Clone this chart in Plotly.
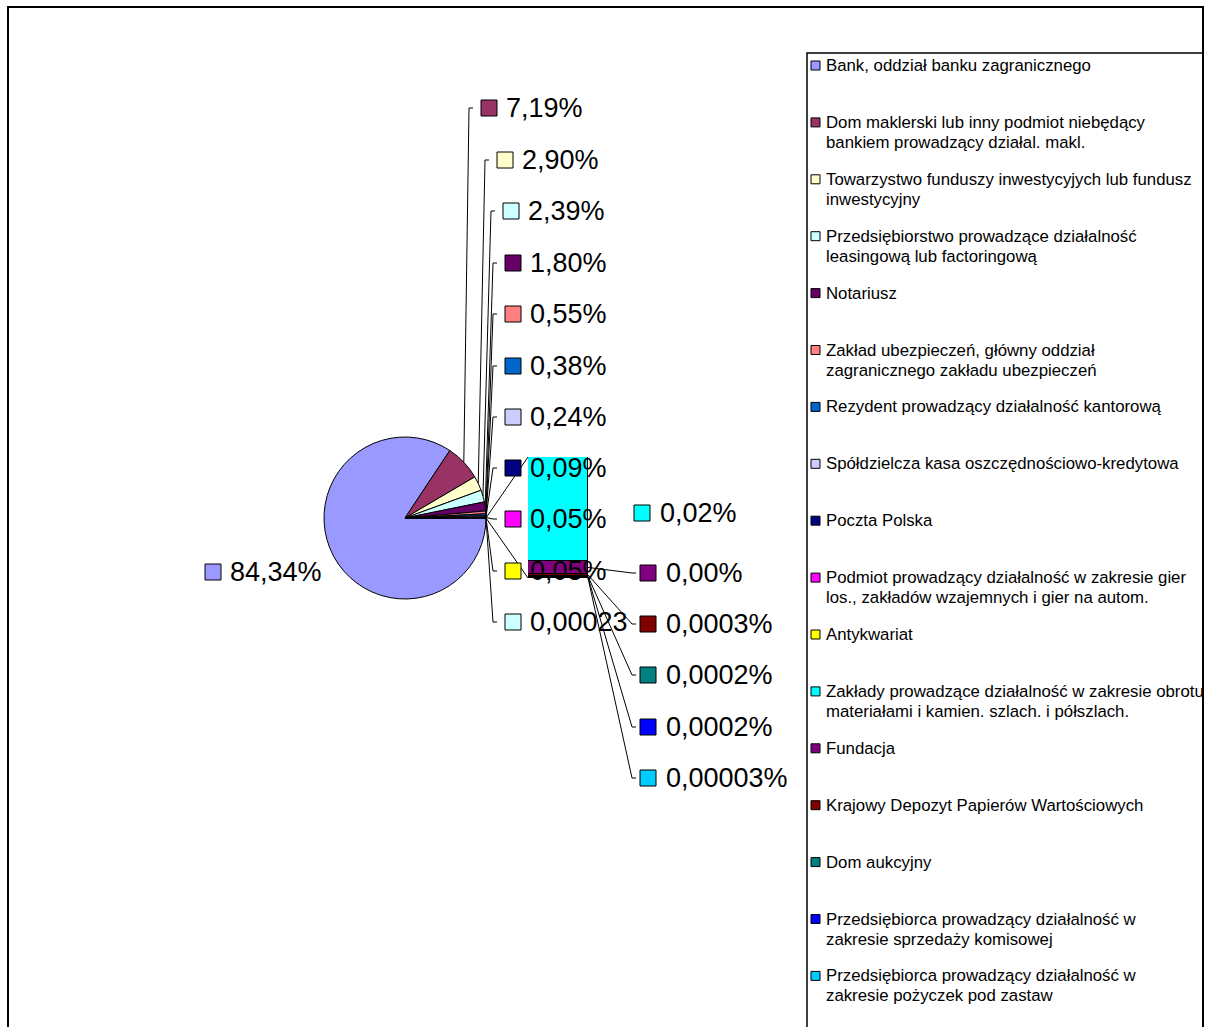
import math
import plotly.graph_objects as go

W, H = 1207, 1027

# ---------------- data ----------------
legend_names = [
    "Bank, oddział banku zagranicznego",
    "Dom maklerski lub inny podmiot niebędący<br>bankiem prowadzący działal. makl.",
    "Towarzystwo funduszy inwestycyjych lub fundusz<br>inwestycyjny",
    "Przedsiębiorstwo prowadzące działalność<br>leasingową lub factoringową",
    "Notariusz",
    "Zakład ubezpieczeń, główny oddział<br>zagranicznego zakładu ubezpieczeń",
    "Rezydent prowadzący działalność kantorową",
    "Spółdzielcza kasa oszczędnościowo-kredytowa",
    "Poczta Polska",
    "Podmiot prowadzący działalność w zakresie gier<br>los., zakładów wzajemnych i gier na autom.",
    "Antykwariat",
    "Zakłady prowadzące działalność w zakresie obrotu<br>materiałami i kamien. szlach. i półszlach.",
    "Fundacja",
    "Krajowy Depozyt Papierów Wartościowych",
    "Dom aukcyjny",
    "Przedsiębiorca prowadzący działalność w<br>zakresie sprzedaży komisowej",
    "Przedsiębiorca prowadzący działalność w<br>zakresie pożyczek pod zastaw",
]

pie_values = [84.34, 7.19, 2.90, 2.39, 1.80, 0.55, 0.38, 0.24, 0.09, 0.05, 0.05]
bar_values = [0.0195, 0.0025, 0.0003, 0.0002, 0.0002, 0.00003]

pie_texts = ["84,34%", "7,19%", "2,90%", "2,39%", "1,80%", "0,55%", "0,38%",
             "0,24%", "0,09%", "0,05%", "0,05%", "0,00023"]
bar_texts = ["0,02%", "0,00%", "0,0003%", "0,0002%", "0,0002%", "0,00003%"]

pie_colors = ["#9999FF", "#993366", "#FFFFCC", "#CCFFFF", "#660066", "#FF8080",
              "#0066CC", "#CCCCFF", "#000080", "#FF00FF", "#FFFF00"]
other_color = "#CCFFFF"
bar_colors = ["#00FFFF", "#800080", "#800000", "#008080", "#0000FF", "#00CCFF"]

# ---------------- layout (pixel) settings ----------------
CX, CY, R = 405, 518, 81
BAR_X0, BAR_X1, BAR_TOP, BAR_BOT = 528, 588, 457, 578
pie_label_pos = [(205, 572), (481, 108), (497, 160), (503, 211), (505, 263), (505, 314),
                 (505, 366), (505, 417), (505, 468), (505, 519), (505, 571), (505, 622)]
bar_label_pos = [(634, 513), (640, 573), (640, 624), (640, 675), (640, 727), (640, 778)]
FONT = "Liberation Sans, Arial, sans-serif"


def px(x):
    return x / W


def py(y):
    return 1 - y / H


other_value = sum(bar_values)
all_pie_values = pie_values + [other_value]
all_pie_colors = pie_colors + [other_color]
pie_names = [n.replace("<br>", " ") for n in legend_names[:11]] + ["Pozostałe"]

fig = go.Figure()

fig.add_trace(go.Pie(
    labels=pie_names, values=all_pie_values, sort=False, direction="clockwise",
    rotation=90, marker=dict(colors=all_pie_colors, line=dict(color="black", width=1)),
    textinfo="none", hoverinfo="label+percent", showlegend=False,
    domain=dict(x=[px(CX - R), px(CX + R)], y=[py(CY + R), py(CY - R)]),
))

for name, v, c in zip(legend_names[11:], bar_values, bar_colors):
    fig.add_trace(go.Bar(
        x=[0], y=[v], width=1, name=name.replace("<br>", " "),
        marker=dict(color=c, line=dict(color="black", width=1)),
        xaxis="x2", yaxis="y2", showlegend=False, hoverinfo="name+y",
    ))

shapes = []
annotations = []

# chart border and legend box
shapes.append(dict(type="rect", xref="paper", yref="paper", x0=px(8), x1=px(1203),
                   y0=py(1035), y1=py(7), line=dict(color="black", width=2)))
shapes.append(dict(type="rect", xref="paper", yref="paper", x0=px(807), x1=px(1203),
                   y0=py(1035), y1=py(53), line=dict(color="black", width=1.5)))


def line(x0, y0, x1, y1, w=1):
    shapes.append(dict(type="line", xref="paper", yref="paper", x0=px(x0), y0=py(y0),
                       x1=px(x1), y1=py(y1), line=dict(color="black", width=w), layer="above"))


def marker(x, y, color, size):
    shapes.append(dict(type="rect", xref="paper", yref="paper", x0=px(x), x1=px(x + size),
                       y0=py(y + size / 2), y1=py(y - size / 2), fillcolor=color,
                       line=dict(color="black", width=1), layer="above"))


def label(x, y, text, size, color="black"):
    annotations.append(dict(x=px(x), y=py(y), xref="paper", yref="paper", text=text,
                            showarrow=False, xanchor="left", yanchor="middle",
                            font=dict(family=FONT, size=size, color=color),
                            borderpad=0, borderwidth=0))


# pie slice geometry (clockwise from 12 o'clock, starting at rotation)
total = sum(all_pie_values)
cum = 0
pie_mid = []
for v in all_pie_values:
    a0 = 90 + cum / total * 360
    a1 = 90 + (cum + v) / total * 360
    pie_mid.append((a0 + a1) / 2)
    cum += v


def pie_point(angle_deg):
    a = math.radians(angle_deg)
    return CX + R * math.sin(a), CY - R * math.cos(a)


# bar-of-pie connector lines from the "other" slice to the bar
other_start = 90 + (total - other_value) / total * 360
sx0, sy0 = pie_point(other_start)
sx1, sy1 = pie_point(90 + 360)
line(sx0, sy0, BAR_X0, BAR_TOP)
line(sx1, sy1, BAR_X0, BAR_BOT)

# pie data labels with leader lines
for i, (text, col, (mx, my)) in enumerate(zip(pie_texts, all_pie_colors, pie_label_pos)):
    if i > 0:
        sx, sy = pie_point(pie_mid[i])
        ex = mx - 12
        line(sx, sy, ex, my)
        line(ex, my, mx - 8, my)
    marker(mx, my, col, 16)
    label(mx + 25, my, text, 27)

# bar data labels with leader lines (first series stacked at the top)
bar_total = sum(bar_values)
cumb = 0
for i, (v, text, col, (mx, my)) in enumerate(zip(bar_values, bar_texts, bar_colors, bar_label_pos)):
    mid = cumb + v / 2
    cumb += v
    sy = BAR_TOP + mid / bar_total * (BAR_BOT - BAR_TOP)
    if i > 0:
        ex = mx - 8
        line(BAR_X1, sy, ex, my)
        line(ex, my, mx - 4, my)
    marker(mx, my, col, 16)
    label(mx + 26, my, text, 27)

# legend (manual, Excel-like fixed slots)
legend_colors = pie_colors + bar_colors
for i, (name, col) in enumerate(zip(legend_names, legend_colors)):
    y = 65.5 + i * 56.9
    marker(811, y, col, 9)
    for k, part in enumerate(name.split("<br>")):
        label(826, y + k * 20, part, 16.8)

fig.update_layout(
    width=W, height=H, margin=dict(l=0, r=0, t=0, b=0),
    paper_bgcolor="white", plot_bgcolor="white",
    barmode="stack", bargap=0,
    xaxis2=dict(domain=[px(BAR_X0), px(BAR_X1)], range=[-0.5, 0.5], visible=False,
                anchor="y2", fixedrange=True),
    yaxis2=dict(domain=[py(BAR_BOT), py(BAR_TOP)], range=[bar_total, 0], visible=False,
                anchor="x2", fixedrange=True),
    shapes=shapes, annotations=annotations,
)

fig.write_html("out.html")
